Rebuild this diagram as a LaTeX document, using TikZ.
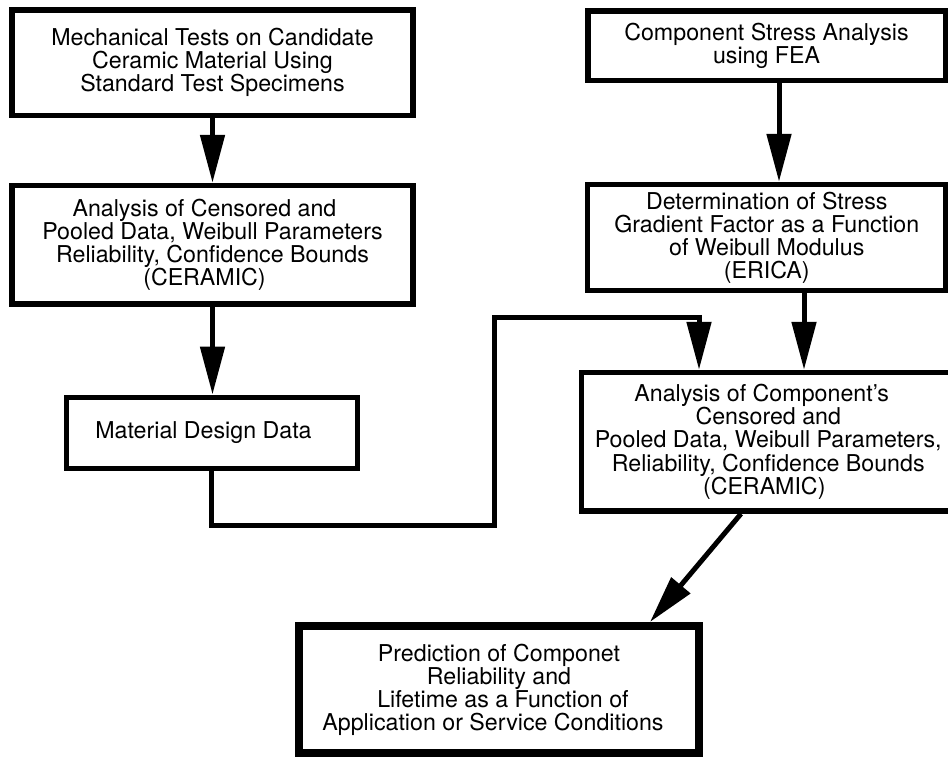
\documentclass[tikz,border=0pt]{standalone}
\usepackage{fontspec}
\setmainfont{TeX Gyre Heros}
\usetikzlibrary{arrows.meta}
\begin{document}
\begin{tikzpicture}[x=0.75pt,y=-0.75pt,
  box/.style={draw=black, line width=4.1pt, align=center, inner sep=0pt,
    font=\fontsize{17.4}{17.3}\selectfont},
  arr/.style={line width=3.75pt, -{Triangle[length=36pt,width=18pt]}},
  link/.style={line width=3.75pt, line join=miter}
]
\useasboundingbox (0,0) rectangle (948,758);
\clip (0,0) rectangle (948,758);

\node[box, minimum width=300.75pt, minimum height=79.1pt] (b1) at (212.5,62.75)
  {Mechanical Tests on Candidate\\Ceramic Material Using\\Standard Test Specimens};
\node[box, minimum width=300.75pt, minimum height=88.9pt] (b2) at (212.5,244.75)
  {Analysis of Censored and\hspace*{12pt}\\Pooled Data, Weibull Parameters\hspace*{12pt}\\Reliability, Confidence Bounds\hspace*{12pt}\\(CERAMIC)\hspace*{12pt}};
\node[box, line width=3.75pt, minimum width=218.25pt, minimum height=53.25pt] (b3) at (211.5,432.5)
  {Material Design Data\hspace*{12pt}};
\node[box, minimum width=268.1pt, minimum height=52.1pt] (b4) at (766.5,45.75)
  {Component Stress Analysis\\using FEA};
\node[box, minimum width=268.9pt, minimum height=79.5pt] (b5) at (766.75,237.5)
  {Determination of Stress\\Gradient Factor as a Function\\of Weibull Modulus\\(ERICA)};
\node[box, minimum width=280.1pt, minimum height=103.9pt] (b6) at (768.25,441.75)
  {Analysis of Component's\hspace*{9.75pt}\\Censored and\hspace*{21pt}\\Pooled Data, Weibull Parameters,\hspace*{13.5pt}\\Reliability, Confidence Bounds\hspace*{9pt}\\(CERAMIC)\hspace*{6pt}};
\node[box, line width=6pt, minimum width=300pt, minimum height=95.25pt] (b7) at (499,689.5)
  {Prediction of Componet\\Reliability and\\\hspace*{6pt}Lifetime as a Function of\\Application or Service Conditions\hspace*{9pt}};

\coordinate (xa) at (779,0);
\coordinate (xb) at (804,0);
\coordinate (xc) at (699,0);
\coordinate (xd) at (741,0);
\coordinate (xe) at (650,0);
\coordinate (c1) at (211.5,525.5);
\coordinate (c2) at (494,525.5);
\coordinate (c3) at (494,317.5);
\coordinate (c4) at (699,317.5);

\draw[arr] (b1.south) -- (b2.north);
\draw[arr] (b2.south) -- (b2.south |- b3.north);
\draw[arr] (b4.south -| xa) -- (b5.north -| xa);
\draw[arr] (b5.south -| xb) -- (b6.north -| xb);
\draw[link] (b3.south) -- (c1) -- (c2) -- (c3) -- (c4);
\draw[arr] ([yshift=1.9pt]c4) -- (b6.north -| xc);
\draw[arr] (b6.south -| xd) -- (b7.north -| xe);
\end{tikzpicture}
\end{document}
